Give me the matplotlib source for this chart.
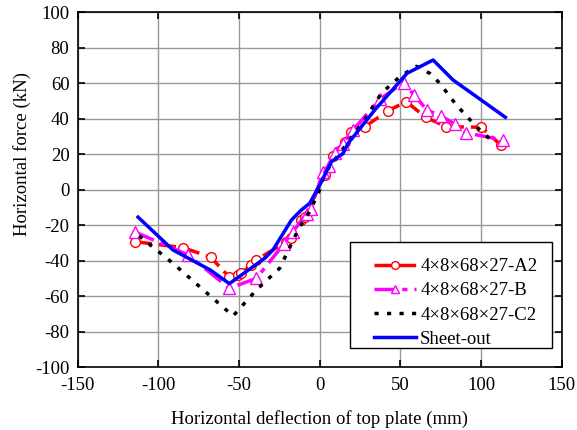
import matplotlib
matplotlib.use("Agg")
import matplotlib.pyplot as plt
from matplotlib.patches import Rectangle

plt.rcParams['font.family'] = ['Liberation Serif', 'DejaVu Serif']
plt.rcParams['axes.unicode_minus'] = False

# Data
a2_x = [-114.7, -84.7, -67.5, -56.2, -50.6, -48.5, -42.3, -39.2, -20.6, -17.5, -11.3, -9.3,
        3.0, 8.3, 12.0, 15.5, 19.6, 27.9, 42.3, 53.7, 65.7, 78.5, 100.2, 112.2]
a2_y = [-29.3, -32.7, -38.1, -49.2, -48.1, -47.1, -42.5, -39.6, -29.3, -27.4, -17.1, -15.5,
        8.0, 19.0, 22.0, 27.0, 32.7, 35.5, 44.5, 49.6, 40.8, 35.5, 35.2, 25.2]

b_x = [-114.7, -81.6, -56.0, -39.2, -22.2, -16.7, -8.0, -5.6,
       2.1, 5.5, 9.3, 14.4, 20.6, 37.2, 52.0, 58.5, 66.5, 75.4, 83.7, 90.5, 113.6]
b_y = [-23.8, -36.8, -55.6, -50.0, -30.5, -23.7, -13.5, -11.0,
       10.1, 13.5, 20.5, 26.0, 33.5, 51.0, 60.2, 53.4, 44.9, 41.5, 37.0, 32.1, 28.0]

c2_x = [-112.0, -91.0, -53.7, -39.2, -24.8, -12.4, -6.2, 0.0, 3.1, 12.0, 27.9, 38.2, 50.0, 60.0,
        68.2, 74.4, 84.7, 97.1, 108.5]
c2_y = [-26.0, -41.5, -71.2, -56.5, -44.3, -20.9, -12.4, 0.0, 9.2, 20.0, 39.5, 54.3, 64.0, 69.5,
        65.6, 60.0, 47.7, 35.5, 26.1]

s_x = [-112.6, -91.0, -68.0, -56.0, -34.1, -29.0, -17.5, -11.3, -6.2, 0.0, 4.1, 7.3, 14.5, 17.6,
       34.1, 54.1, 70.3, 82.7, 115.1]
s_y = [-15.5, -34.0, -45.2, -53.0, -38.7, -34.0, -17.1, -11.4, -7.7, 2.6, 10.1, 15.8, 20.5, 26.1,
       44.9, 65.6, 73.1, 61.8, 40.8]

labels = ['4×8×68×27-A2', '4×8×68×27-B', '4×8×68×27-C2', 'Sheet-out']
xticks = [-150, -100, -50, 0, 50, 100, 150]
yticks = [-100, -80, -60, -40, -20, 0, 20, 40, 60, 80, 100]

FS = 13.5

fig = plt.figure(figsize=(5.77, 4.30), dpi=100)
ax = fig.add_axes([0.1347, 0.1465, 0.8388, 0.8249])

ax.plot(a2_x, a2_y, color='red', lw=2.5, ls=(0, (5, 2)), marker='o', ms=7,
        mfc='white', mec='red', mew=1.0, label=labels[0], zorder=3)
ax.plot(b_x, b_y, color='#ff00ff', lw=2.5, ls=(0, (6, 2, 1.5, 2)), marker='^', ms=8,
        mfc='white', mec='#ff00ff', mew=1.0, label=labels[1], zorder=3)
ax.plot(c2_x, c2_y, color='black', lw=2.5, ls=(0, (1.2, 2.4)), label=labels[2], zorder=3)
ax.plot(s_x, s_y, color='#0000ff', lw=2.5, ls='-', label=labels[3], zorder=4)

ax.set_xlim(-150, 150)
ax.set_ylim(-100, 100)
ax.set_xticks(xticks)
ax.set_yticks(yticks)
ax.grid(True, color='#999999', lw=1.0)
ax.set_axisbelow(True)
ax.tick_params(direction='in', top=True, right=True, labelsize=FS, length=5, width=1.2)
ax.tick_params(axis='x', pad=7)
ax.tick_params(axis='y', pad=6)
for s in ax.spines.values():
    s.set_linewidth(1.2)

ax.set_xlabel('Horizontal deflection of top plate (mm)', fontsize=FS, labelpad=12)
ax.set_ylabel('Horizontal force (kN)', fontsize=FS)
ax.yaxis.set_label_coords(-0.097, 0.60)

# legend frame
ax.add_patch(Rectangle((0.5626, 0.0527), 0.9806 - 0.5626, 0.3516 - 0.0527,
                       transform=ax.transAxes, facecolor='white', edgecolor='black',
                       lw=1.0, zorder=5))
leg = ax.legend(loc='upper left', bbox_to_anchor=(0.6128, 0.307), borderaxespad=0,
                fontsize=FS, frameon=False, borderpad=0,
                handlelength=2.25, labelspacing=0.38, handletextpad=0.2,
                markerscale=0.8)
leg.set_zorder(6)

fig.savefig('out.png', dpi=100)
